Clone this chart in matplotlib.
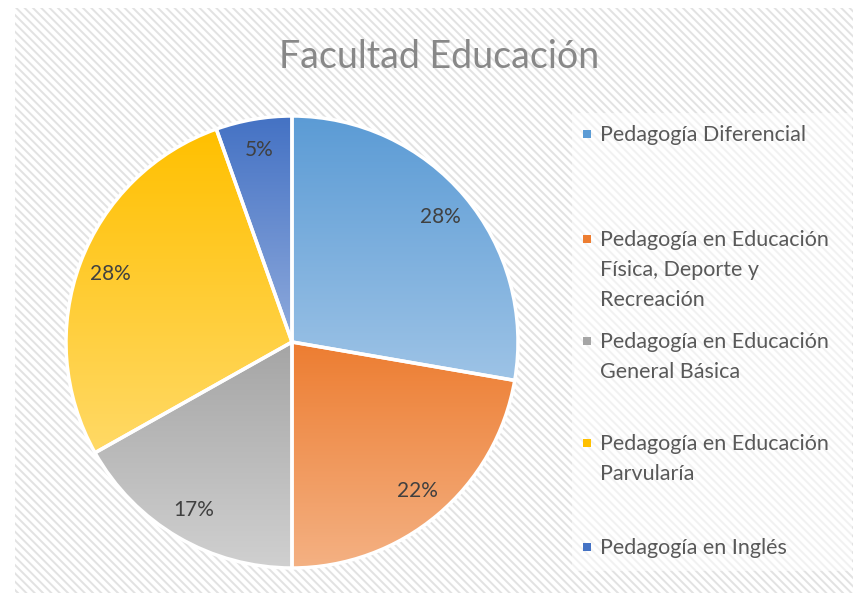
import numpy as np
import matplotlib
matplotlib.use('Agg')
import matplotlib.pyplot as plt
from matplotlib.colors import LinearSegmentedColormap
from matplotlib.patches import Rectangle

# datos (lectura aproximada del grafico)
carreras = ['Pedagogía Diferencial',
            'Pedagogía en Educación\nFísica, Deporte y\nRecreación',
            'Pedagogía en Educación\nGeneral Básica',
            'Pedagogía en Educación\nParvularía',
            'Pedagogía en Inglés']
valores = [51, 41, 31, 51, 10]
col_arriba = ['#5B9BD5', '#ED7D31', '#A5A5A5', '#FFC000', '#4472C4']
col_abajo = ['#9DC3E6', '#F4B183', '#D0D0D0', '#FFD966', '#8FAADC']

plt.rcParams['font.family'] = ['Lato', 'DejaVu Sans']
plt.rcParams['hatch.linewidth'] = 1.4

fig = plt.figure(figsize=(8.54, 5.95), dpi=100)
W, H = 854, 595

# fondo rayado
fondo = fig.add_axes([0, 0, 1, 1])
fondo.set_xlim(0, W)
fondo.set_ylim(H, 0)
fondo.axis('off')
fondo.add_patch(Rectangle((15, 8), W - 15, 585, facecolor='white',
                          edgecolor='#E2E2E2', linewidth=0, hatch='\\\\\\\\'))
fondo.add_patch(Rectangle((572, 113), 280, 458, facecolor='white',
                          edgecolor='none', alpha=0.55))

fig.text(439 / W, 1 - 57 / H, 'Facultad Educación', ha='center', va='center',
         fontsize=27, color='#888888')

# torta
cx, cy, R = 292, 342, 226
ax = fig.add_axes([(cx - R) / W, (H - cy - R) / H, 2 * R / W, 2 * R / H])
wedges = ax.pie(valores, startangle=90, counterclock=False, radius=1,
                wedgeprops=dict(edgecolor='white', linewidth=2.5))[0]

total = sum(valores)
ang = 90.0
for w, v, c1, c2 in zip(wedges, valores, col_arriba, col_abajo):
    ext = w.get_path().get_extents()
    cmap = LinearSegmentedColormap.from_list('g', [c1, c2])
    grad = np.linspace(0, 1, 256).reshape(-1, 1)
    im = ax.imshow(grad, cmap=cmap, aspect='auto', origin='upper',
                   extent=[ext.x0, ext.x1, ext.y0, ext.y1], zorder=1)
    im.set_clip_path(w)
    w.set_facecolor('none')
    w.set_zorder(2)
    w.set_clip_on(False)
    span = 360.0 * v / total
    mid = np.radians(ang - span / 2)
    ang -= span
    ax.text(0.86 * np.cos(mid), 0.86 * np.sin(mid),
            '{:.0f}%'.format(100.0 * v / total), ha='center', va='center',
            fontsize=15, color='#404040', zorder=3)
ax.set_xlim(-1, 1)
ax.set_ylim(-1, 1)
ax.set_aspect('equal')
ax.axis('off')

# leyenda
y_ley = [134, 239, 341, 443, 547]
for nombre, y, c in zip(carreras, y_ley, col_arriba):
    fondo.add_patch(Rectangle((583, y - 4), 8, 8, facecolor=c, edgecolor='none'))
    fig.text(600 / W, 1 - (y - 9) / H, nombre, ha='left', va='top',
             fontsize=15.5, color='#595959', linespacing=1.62)

fig.savefig('out.png', dpi=100)
